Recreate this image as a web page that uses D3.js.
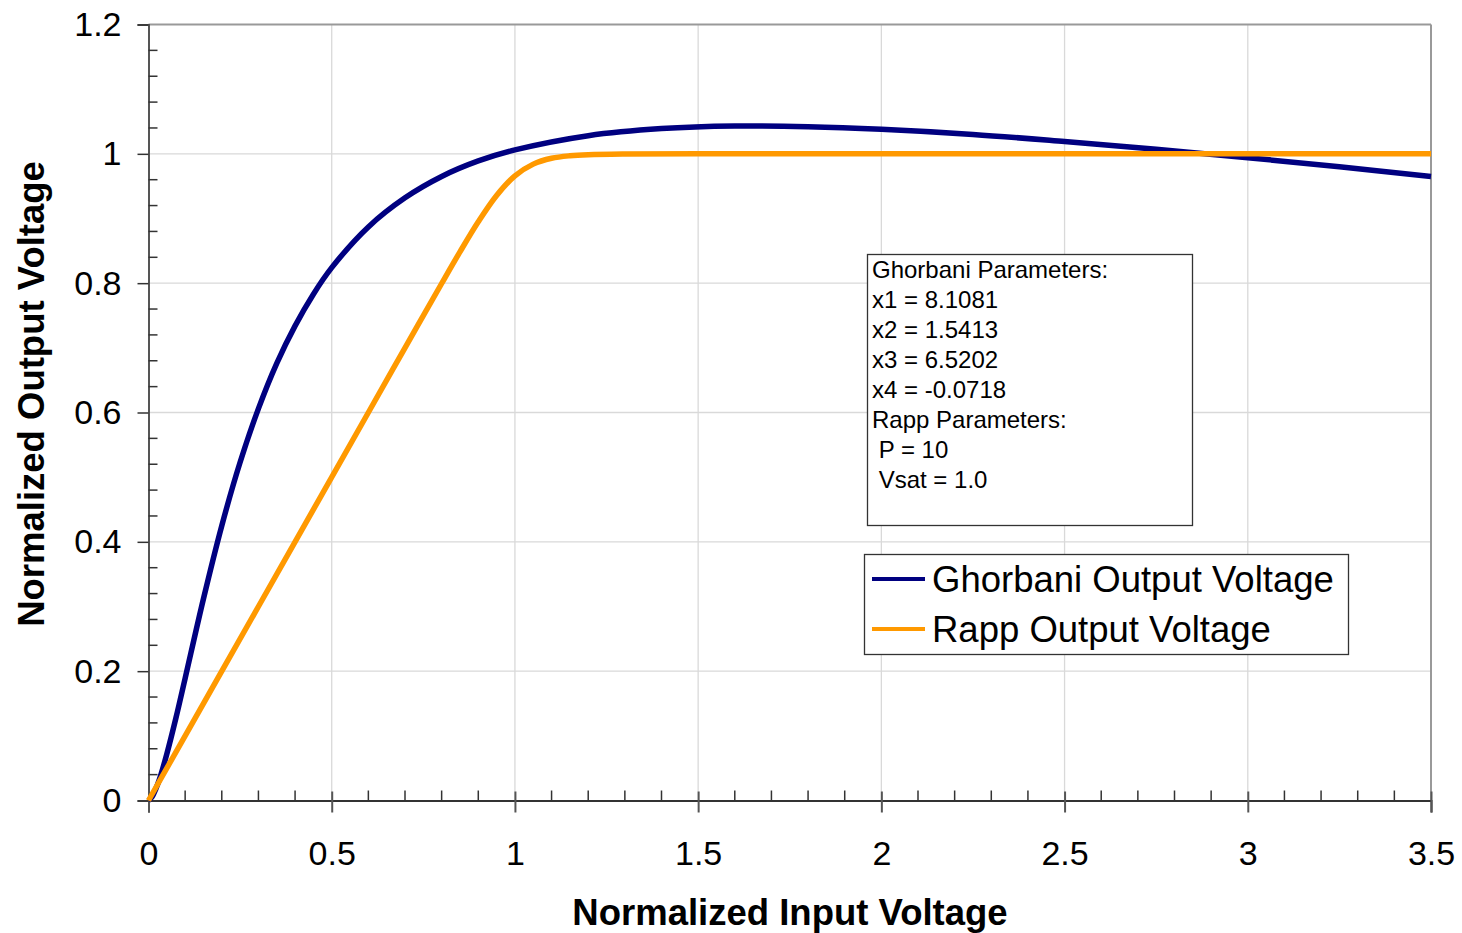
<!DOCTYPE html>
<html>
<head>
<meta charset="utf-8">
<script src="https://cdn.jsdelivr.net/npm/d3@7"></script>
<style>
  body { margin: 0; background: #fff; }
  text { font-family: "Liberation Sans", Arial, sans-serif; }
</style>
</head>
<body>
<svg id="chart" width="1462" height="933"></svg>
<script>
// Normalized input voltage samples and the two amplifier output curves
const ghorbaniX = [0, 0.01, 0.02, 0.03, 0.05, 0.075, 0.1, 0.15, 0.2, 0.25, 0.3, 0.35, 0.4, 0.45, 0.5,
  0.6, 0.7, 0.8, 0.9, 1.0, 1.2, 1.4, 1.6, 1.8, 2.0, 2.25, 2.5, 2.75, 3.0, 3.25, 3.5];
const ghorbaniY = [0, 0.006, 0.018, 0.033, 0.072, 0.128, 0.189, 0.312, 0.425, 0.523, 0.606, 0.676, 0.734, 0.783, 0.824,
  0.887, 0.932, 0.965, 0.989, 1.006, 1.028, 1.039, 1.043, 1.042, 1.038, 1.030, 1.019, 1.007, 0.994, 0.980, 0.965];

const rappX = [0, 0.2, 0.4, 0.6, 0.7, 0.8, 0.85, 0.9, 0.95, 1.0, 1.05, 1.1, 1.15, 1.2, 1.3, 1.5, 2.0, 2.5, 3.0, 3.5];
const rappY = [0, 0.2, 0.4, 0.6, 0.7, 0.7995, 0.8484, 0.8949, 0.9356, 0.9659, 0.9841, 0.9931, 0.9970, 0.9987, 0.9997, 1.0, 1.0, 1.0, 1.0, 1.0];

const xTicks = [0, 0.5, 1, 1.5, 2, 2.5, 3, 3.5];
const yTicks = [0, 0.2, 0.4, 0.6, 0.8, 1, 1.2];

const seriesNames = ["Ghorbani Output Voltage", "Rapp Output Voltage"];
const seriesColors = ["#000080", "#FF9900"];

const paramLines = ["Ghorbani Parameters:", "x1 = 8.1081", "x2 = 1.5413", "x3 = 6.5202", "x4 = -0.0718",
  "Rapp Parameters:", " P = 10", " Vsat = 1.0"];

const svg = d3.select("#chart");
const plot = { left: 148.5, right: 1431, top: 24.5, bottom: 800.5 };

const x = d3.scaleLinear().domain([0, 3.5]).range([plot.left, plot.right]);
const y = d3.scaleLinear().domain([0, 1.2]).range([plot.bottom, plot.top]);

// Gridlines
const grid = svg.append("g");
grid.selectAll("line.v").data(xTicks.slice(1, -1)).join("line")
  .attr("x1", d => x(d)).attr("x2", d => x(d))
  .attr("y1", plot.top).attr("y2", plot.bottom)
  .attr("stroke", "#d9d9d9").attr("stroke-width", 1.3);
grid.selectAll("line.h").data(yTicks.slice(1, -1)).join("line")
  .attr("x1", plot.left).attr("x2", plot.right)
  .attr("y1", d => y(d)).attr("y2", d => y(d))
  .attr("stroke", "#d9d9d9").attr("stroke-width", 1.3);

// Frame: top and right border
svg.append("line").attr("x1", plot.left).attr("x2", plot.right).attr("y1", plot.top).attr("y2", plot.top)
  .attr("stroke", "#999").attr("stroke-width", 2);
svg.append("line").attr("x1", plot.right).attr("x2", plot.right).attr("y1", plot.top).attr("y2", plot.bottom)
  .attr("stroke", "#999").attr("stroke-width", 2);

// Minor ticks
const xMinor = d3.range(0, 36).map(i => i / 10).filter(v => Math.abs(v * 2 - Math.round(v * 2)) > 1e-6);
const yMinor = d3.range(0, 31).map(i => i * 0.04).filter(v => Math.abs(v * 5 - Math.round(v * 5)) > 1e-6);

// X axis
const xAxis = d3.axisBottom(x).tickValues(xTicks).tickSize(12).tickPadding(28)
  .tickFormat(d3.format("~g"));
const gx = svg.append("g").attr("transform", `translate(0,${plot.bottom})`).call(xAxis);
gx.select(".domain").attr("stroke", "#333").attr("stroke-width", 2);
gx.selectAll(".tick line").attr("stroke", "#555").attr("stroke-width", 2).attr("y1", -9);
gx.selectAll(".tick text").attr("font-size", 34).attr("fill", "#000");
svg.append("g").selectAll("line").data(xMinor).join("line")
  .attr("x1", d => x(d)).attr("x2", d => x(d))
  .attr("y1", plot.bottom).attr("y2", plot.bottom - 10)
  .attr("stroke", "#333").attr("stroke-width", 1.5);

// Y axis
const yAxis = d3.axisLeft(y).tickValues(yTicks).tickSize(11).tickPadding(16)
  .tickFormat(d3.format("~g"));
const gy = svg.append("g").attr("transform", `translate(${plot.left},0)`).call(yAxis);
gy.select(".domain").attr("stroke", "#555").attr("stroke-width", 2);
gy.selectAll(".tick line").attr("stroke", "#333").attr("stroke-width", 1.5);
gy.selectAll(".tick text").attr("font-size", 34).attr("fill", "#000");
svg.append("g").selectAll("line").data(yMinor).join("line")
  .attr("x1", plot.left).attr("x2", plot.left + 9)
  .attr("y1", d => y(d)).attr("y2", d => y(d))
  .attr("stroke", "#333").attr("stroke-width", 1.5);

// Axis titles
svg.append("text").attr("x", 790).attr("y", 925).attr("text-anchor", "middle")
  .attr("font-size", 36.5).attr("font-weight", "bold").text("Normalized Input Voltage");
svg.append("text").attr("transform", "translate(44,394) rotate(-90)").attr("text-anchor", "middle")
  .attr("font-size", 36.5).attr("font-weight", "bold").text("Normalized Output Voltage");

// Curves
const line = d3.line().x(d => x(d[0])).y(d => y(d[1])).curve(d3.curveCatmullRom.alpha(0.5));
const series = [
  ghorbaniX.map((v, i) => [v, ghorbaniY[i]]),
  rappX.map((v, i) => [v, rappY[i]])
];
series.forEach((pts, i) => {
  svg.append("path").datum(pts).attr("d", line)
    .attr("fill", "none").attr("stroke", seriesColors[i]).attr("stroke-width", 5.5)
    .attr("stroke-linejoin", "round");
});

// Parameter box
const pb = svg.append("g");
pb.append("rect").attr("x", 867.5).attr("y", 254.5).attr("width", 325).attr("height", 271)
  .attr("fill", "#fff").attr("stroke", "#333").attr("stroke-width", 1.3);
pb.selectAll("text").data(paramLines).join("text")
  .attr("x", 872).attr("y", (d, i) => 278 + i * 30)
  .attr("font-size", 24).attr("xml:space", "preserve").style("white-space", "pre")
  .text(d => d);

// Legend
const lg = svg.append("g");
lg.append("rect").attr("x", 864.5).attr("y", 554.5).attr("width", 484).attr("height", 100)
  .attr("fill", "#fff").attr("stroke", "#333").attr("stroke-width", 1.3);
seriesNames.forEach((name, i) => {
  const cy = 579 + i * 50;
  lg.append("line").attr("x1", 872).attr("x2", 925).attr("y1", cy).attr("y2", cy)
    .attr("stroke", seriesColors[i]).attr("stroke-width", 4);
  lg.append("text").attr("x", 932).attr("y", cy + 13).attr("font-size", 36.5).text(name);
});
</script>
</body>
</html>
